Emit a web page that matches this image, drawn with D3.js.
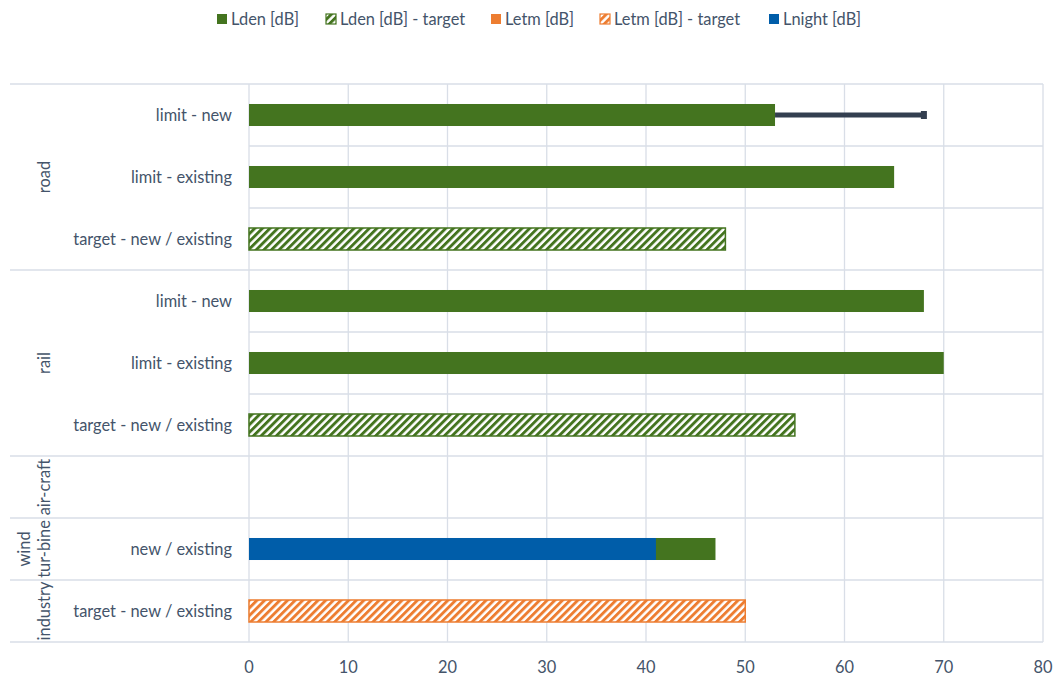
<!DOCTYPE html>
<html><head><meta charset="utf-8">
<script src="https://cdn.jsdelivr.net/npm/d3@7"></script>
<style>body{margin:0;background:#fff;} text{font-family:Lato,"Open Sans",sans-serif;fill:#44546a;}</style>
</head><body><svg id="c" width="1057" height="675"></svg>
<script>
// Data
const groups = [
  {name:["road"], rows:["limit - new","limit - existing","target - new / existing"]},
  {name:["rail"], rows:["limit - new","limit - existing","target - new / existing"]},
  {name:["air-craft"], rows:[""]},
  {name:["wind","tur-bine"], rows:["new / existing"]},
  {name:["industry"], rows:["target - new / existing"]}
];
const rowIds = ["road1","road2","road3","rail1","rail2","rail3","air1","wind1","ind1"];
const lden       = [53, 65, null, 68, 70, null, null, 47, null];
const ldenTarget = [null, null, 48, null, null, 55, null, null, null];
const letm       = [null, null, null, null, null, null, null, null, null];
const letmTarget = [null, null, null, null, null, null, null, null, 50];
const lnight     = [null, null, null, null, null, null, null, 41, null];
const errHigh    = [68, null, null, null, null, null, null, null, null];
const xTicks = [0,10,20,30,40,50,60,70,80];
const legendNames = ["Lden [dB]","Lden [dB] - target","Letm [dB]","Letm [dB] - target","Lnight [dB]"];

const green="#44741f", orange="#ed7d31", blue="#005da9", grid="#d9dee7", errC="#333f50";
const FS = 16.4;

const svg = d3.select("#c");
const L=249, R=1043, T=84, B=642;
const x = d3.scaleLinear().domain([0,80]).range([L,R]);
const y = d3.scaleBand().domain(rowIds).range([T,B]).paddingInner(0.645).paddingOuter(0.3225);
const yRow = d3.scaleBand().domain(rowIds).range([T,B]);

const defs = svg.append("defs");
function hatch(id,color){
  const p = defs.append("pattern").attr("id",id).attr("patternUnits","userSpaceOnUse")
    .attr("width",5.4).attr("height",5.4).attr("patternTransform","rotate(45)");
  p.append("rect").attr("width",5.4).attr("height",5.4).attr("fill","#fff");
  p.append("rect").attr("width",2.9).attr("height",5.4).attr("fill",color);
}
hatch("hg",green); hatch("ho",orange);

// grid: vertical
svg.append("g").selectAll("line").data(xTicks).join("line")
  .attr("x1",d=>x(d)).attr("x2",d=>x(d)).attr("y1",T).attr("y2",B)
  .attr("stroke",grid).attr("stroke-width",1.3);
// row lines
const boundaries = [];
let idx=0;
groups.forEach(g=>{ boundaries.push({i:idx,group:true}); for(let k=1;k<g.rows.length;k++) boundaries.push({i:idx+k,group:false}); idx+=g.rows.length; });
boundaries.push({i:idx,group:true});
svg.append("g").selectAll("line").data(boundaries).join("line")
  .attr("x1",d=>d.group?10:L).attr("x2",R)
  .attr("y1",d=>T+d.i*yRow.bandwidth()).attr("y2",d=>T+d.i*yRow.bandwidth())
  .attr("stroke",grid).attr("stroke-width",1.3);

// bars
function bars(arr, fill, stroke){
  svg.append("g").selectAll("rect").data(rowIds.map((r,i)=>({r,v:arr[i]})).filter(d=>d.v!=null)).join("rect")
    .attr("x",x(0)).attr("y",d=>y(d.r)).attr("width",d=>x(d.v)-x(0)).attr("height",y.bandwidth())
    .attr("fill",fill).attr("stroke",stroke||"none").attr("stroke-width",stroke?1.5:0);
}
bars(lden, green);
bars(ldenTarget, "url(#hg)", green);
bars(letm, orange);
bars(letmTarget, "url(#ho)", orange);
bars(lnight, blue);

// error bars
const eb = rowIds.map((r,i)=>({r,lo:lden[i],hi:errHigh[i]})).filter(d=>d.hi!=null);
const eg = svg.append("g");
eg.selectAll("line").data(eb).join("line")
  .attr("x1",d=>x(d.lo)).attr("x2",d=>x(d.hi))
  .attr("y1",d=>y(d.r)+y.bandwidth()/2).attr("y2",d=>y(d.r)+y.bandwidth()/2)
  .attr("stroke",errC).attr("stroke-width",5);
eg.selectAll("rect").data(eb).join("rect")
  .attr("x",d=>x(d.hi)-3).attr("y",d=>y(d.r)+y.bandwidth()/2-4).attr("width",6).attr("height",8)
  .attr("fill",errC);

// x tick labels
svg.append("g").selectAll("text").data(xTicks).join("text")
  .attr("x",d=>x(d)).attr("y",673).attr("text-anchor","middle").attr("font-size",FS).text(d=>d);

// row labels
let ri=0; const rowLabels=[];
groups.forEach(g=>g.rows.forEach(t=>{rowLabels.push({r:rowIds[ri],t}); ri++;}));
svg.append("g").selectAll("text").data(rowLabels).join("text")
  .attr("x",232).attr("y",d=>yRow(d.r)+yRow.bandwidth()/2).attr("dy","0.35em")
  .attr("text-anchor","end").attr("font-size",FS).text(d=>d.t);

// group labels
idx=0;
groups.forEach(g=>{
  const y0=T+idx*yRow.bandwidth(), y1=T+(idx+g.rows.length)*yRow.bandwidth();
  const cy=(y0+y1)/2;
  const n=g.name.length;
  g.name.forEach((line,j)=>{
    const cx = 45 - (n-1-j)*20;
    svg.append("text").attr("transform",`translate(${cx+5},${cy}) rotate(-90)`)
      .attr("text-anchor","middle").attr("font-size",FS).text(line);
  });
  idx+=g.rows.length;
});

// legend
const legX=[217,326,491,600,769];
const legFill=[green,"url(#hg)",orange,"url(#ho)",blue];
const legStroke=[null,green,null,orange,null];
const lg=svg.append("g");
legendNames.forEach((n,i)=>{
  lg.append("rect").attr("x",legX[i]).attr("y",14).attr("width",10).attr("height",10)
    .attr("fill",legFill[i]).attr("stroke",legStroke[i]||"none").attr("stroke-width",1.2);
  lg.append("text").attr("x",legX[i]+14).attr("y",19).attr("dy","0.35em").attr("font-size",FS).text(n);
});
</script></body></html>
